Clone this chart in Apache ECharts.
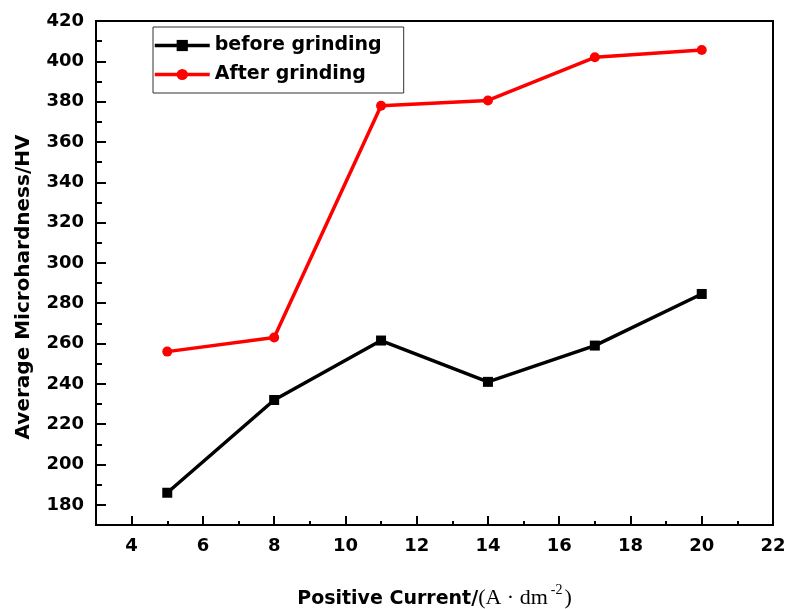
<!DOCTYPE html>
<html>
<head>
<meta charset="utf-8">
<script src="https://cdn.jsdelivr.net/npm/echarts@6/dist/echarts.min.js"></script>
<style>html,body{margin:0;padding:0;background:#fff}#c{width:788px;height:609px}</style>
</head>
<body>
<div id="c"></div>
<script>
var xValues = [5, 8, 11, 14, 17, 20];
var beforeGrinding = [186, 232, 261.5, 241, 259, 284.6];
var afterGrinding = [256, 263, 378, 380.6, 402, 405.6];
var xMajorTicks = [4, 6, 8, 10, 12, 14, 16, 18, 20, 22];
var xMinorTicks = [5, 7, 9, 11, 13, 15, 17, 19, 21];
var yMajorTicks = [180, 200, 220, 240, 260, 280, 300, 320, 340, 360, 380, 400, 420];
var yMinorTicks = [190, 210, 230, 250, 270, 290, 310, 330, 350, 370, 390, 410];

var chart = echarts.init(document.getElementById('c'));
var font = 'DejaVu Sans, Liberation Sans, Arial, sans-serif';
var serif = 'Liberation Serif, Times New Roman, serif';
function pairs(ys){ return xValues.map(function(x,i){ return [x, ys[i]]; }); }
var axisLine = {show:true, lineStyle:{color:'#000', width:2}};
chart.setOption({
  animation:false,
  grid:{left:96, right:15, top:21, bottom:84, show:true, borderColor:'#000', borderWidth:2, outerBoundsMode:'none', containLabel:false},
  legend:{
    orient:'vertical', left:153, top:27,
    data:['before grinding','After grinding'],
    borderColor:'#333', borderWidth:1, padding:[9,22,9,0], itemGap:10,
    itemWidth:55, itemHeight:14,
    lineStyle:{width:3.5},
    textStyle:{fontFamily:font, fontWeight:'bold', fontSize:19, color:'#000'}
  },
  xAxis:[{
    type:'value', min:3, max:22,
    axisLine:axisLine,
    axisTick:{show:true, inside:true, length:9, lineStyle:{color:'#000', width:2}, customValues:xMajorTicks},
    axisLabel:{customValues:xMajorTicks, fontFamily:font, fontWeight:'bold', fontSize:18, color:'#000', margin:12},
    splitLine:{show:false},
    name:'{a|Positive Current/}{b|(A · dm}{c|-2}{b|)}',
    nameLocation:'middle', nameGap:58,
    nameTextStyle:{rich:{
      a:{fontFamily:font, fontWeight:'bold', fontSize:19, color:'#000', verticalAlign:'bottom'},
      b:{fontFamily:serif, fontWeight:'normal', fontSize:22, color:'#000', verticalAlign:'bottom'},
      c:{fontFamily:serif, fontWeight:'normal', fontSize:14, color:'#000', verticalAlign:'top', padding:[0,2,12,3]}
    }}
  },{
    type:'value', min:3, max:22, position:'bottom',
    axisLine:{show:false},
    axisTick:{show:true, inside:true, length:4, lineStyle:{color:'#000', width:2}, customValues:xMinorTicks},
    axisLabel:{show:false},
    splitLine:{show:false}
  }],
  yAxis:[{
    type:'value', min:170, max:420,
    axisLine:axisLine,
    axisTick:{show:true, inside:true, length:10, lineStyle:{color:'#000', width:2}, customValues:yMajorTicks},
    axisLabel:{customValues:yMajorTicks, fontFamily:font, fontWeight:'bold', fontSize:18, color:'#000', margin:12},
    splitLine:{show:false},
    name:'Average Microhardness/HV', nameLocation:'middle', nameGap:62, nameRotate:90,
    nameTextStyle:{fontFamily:font, fontWeight:'bold', fontSize:20, color:'#000', padding:[0,28,0,0]}
  },{
    type:'value', min:170, max:420, position:'left',
    axisLine:{show:false},
    axisTick:{show:true, inside:true, length:6, lineStyle:{color:'#000', width:2}, customValues:yMinorTicks},
    axisLabel:{show:false},
    splitLine:{show:false}
  }],
  series:[{
    name:'before grinding', type:'line', data:pairs(beforeGrinding),
    xAxisIndex:0, yAxisIndex:0,
    symbol:'rect', symbolSize:10, showAllSymbol:true,
    lineStyle:{color:'#000', width:3.5}, itemStyle:{color:'#000'}
  },{
    name:'After grinding', type:'line', data:pairs(afterGrinding),
    xAxisIndex:0, yAxisIndex:0,
    symbol:'circle', symbolSize:10, showAllSymbol:true,
    lineStyle:{color:'#ff0000', width:3.5}, itemStyle:{color:'#ff0000'}
  }]
});
</script>
</body>
</html>
